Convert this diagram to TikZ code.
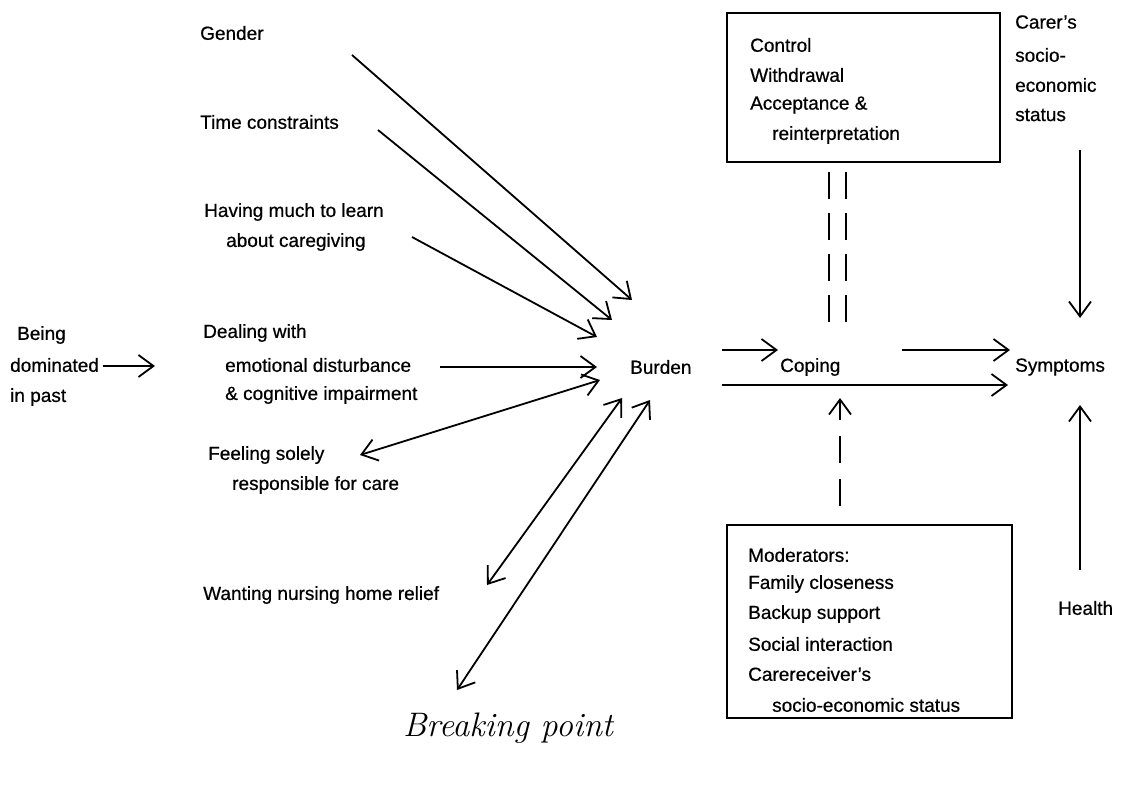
\documentclass[tikz,border=0pt]{standalone}
\usepackage{fontspec}
\setmainfont{Liberation Sans}[FakeBold=0.6]
\newfontfamily\handfont{Latin Modern Roman}
\usetikzlibrary{arrows.meta}
\newcommand\dsz{\fontsize{19}{22}\selectfont}
\tikzset{
  lbl/.style={anchor=west,inner sep=0pt,font=\dsz},
  tip/.tip={Straight Barb[length=15pt,width=22pt,line width=1.8pt]},
  arr/.style={line width=1.8pt,-tip},
  darr/.style={line width=1.8pt,tip-tip},
  framebox/.style={draw,line width=1.8pt,inner sep=0pt},
  dashline/.style={line width=1.9pt,dash pattern=on 27pt off 14pt},
}
\begin{document}
\begin{tikzpicture}[x=1pt,y=-1pt]
\useasboundingbox (0,0) rectangle (1140,788);
% left labels
\node[lbl] (gender) at (200,33) {Gender};
\node[lbl] (time) at (200,122) {Time constraints};
\node[lbl] (learnA) at (204,212) {Having much to learn};
\node[lbl] (learnB) at (226,242) {about caregiving};
\node[lbl] (beingA) at (17,335) {Being};
\node[lbl] (beingB) at (10,365) {dominated};
\node[lbl] (beingC) at (10,397) {in past};
\node[lbl] (dealA) at (203,333) {Dealing with};
\node[lbl] (dealB) at (225,365) {emotional disturbance};
\node[lbl] (dealC) at (225,395) {\& cognitive impairment};
\node[lbl] (feelA) at (208,455) {Feeling solely};
\node[lbl] (feelB) at (232,485) {responsible for care};
\node[lbl] (want) at (203,595) {Wanting nursing home relief};
\node[inner sep=0pt,font=\handfont\itshape\fontsize{34}{34}\selectfont] (brk) at (508,728) {Breaking point};
% centre
\node[lbl] (burden) at (630,367) {Burden};
\node[lbl] (coping) at (780,367) {Coping};
\node[lbl] (symp) at (1015,367) {Symptoms};
\node[lbl] (carerA) at (1015,22) {Carer’s};
\node[lbl] (carerB) at (1015,55) {socio-};
\node[lbl] (carerC) at (1015,85) {economic};
\node[lbl] (carerD) at (1015,115) {status};
\node[lbl] (health) at (1058,608) {Health};
% top box
\node[framebox,minimum width=273pt,minimum height=149pt] (topbox) at (863.5,87.5) {};
\node[lbl] (ctlA) at (750,45) {Control};
\node[lbl] (ctlB) at (750,75) {Withdrawal};
\node[lbl] (ctlC) at (750,105) {Acceptance \&};
\node[lbl] (ctlD) at (772,135) {reinterpretation};
% bottom box
\node[framebox,minimum width=285pt,minimum height=193pt] (modbox) at (869.5,621.5) {};
\node[lbl] (modA) at (748,555) {Moderators:};
\node[lbl] (modB) at (748,584) {Family closeness};
\node[lbl] (modC) at (748,614) {Backup support};
\node[lbl] (modD) at (748,644) {Social interaction};
\node[lbl] (modE) at (748,674) {Carereceiver’s};
\node[lbl] (modF) at (772,705) {socio-economic status};
% arrow end points
\coordinate (gS) at (352,55);   \coordinate (gE) at (632,300);
\coordinate (tS) at (378,130);  \coordinate (tE) at (612,320);
\coordinate (lS) at (412,237);  \coordinate (lE) at (597,337);
\coordinate (dS) at (440,367);  \coordinate (dE) at (597,367);
\coordinate (bS) at (103,366);  \coordinate (bE) at (155,366);
\coordinate (fS) at (360,455);  \coordinate (fE) at (600,380);
\coordinate (wS) at (487,585);  \coordinate (wE) at (622,398);
\coordinate (kS) at (457,690);  \coordinate (kE) at (650,400);
\coordinate (bc1) at (722,350); \coordinate (bc2) at (778,350);
\coordinate (bs1) at (722,385); \coordinate (bs2) at (1008,385);
\coordinate (cs1) at (902,350); \coordinate (cs2) at (1010,350);
\coordinate (crS) at (1080,150); \coordinate (crE) at (1080,318);
\coordinate (hS) at (1080,570); \coordinate (hE) at (1080,405);
\coordinate (mS) at (840,506); \coordinate (mE) at (840,398);
\coordinate (pA1) at (829,172); \coordinate (pA2) at (829,322);
\coordinate (pB1) at (846,172); \coordinate (pB2) at (846,322);
% connectors
\draw[arr] (gS) -- (gE);
\draw[arr] (tS) -- (tE);
\draw[arr] (lS) -- (lE);
\draw[arr] (dS) -- (dE);
\draw[arr] (bS) -- (bE);
\draw[darr] (fS) -- (fE);
\draw[darr] (wS) -- (wE);
\draw[darr] (kS) -- (kE);
\draw[arr] (bc1) -- (bc2);
\draw[arr] (bs1) -- (bs2);
\draw[arr] (cs1) -- (cs2);
\draw[arr] (crS) -- (crE);
\draw[arr] (hS) -- (hE);
\draw[arr,dash pattern=on 27pt off 16pt] (mS) -- (mE);
\draw[dashline] (pA1) -- (pA2);
\draw[dashline] (pB1) -- (pB2);
\end{tikzpicture}
\end{document}
